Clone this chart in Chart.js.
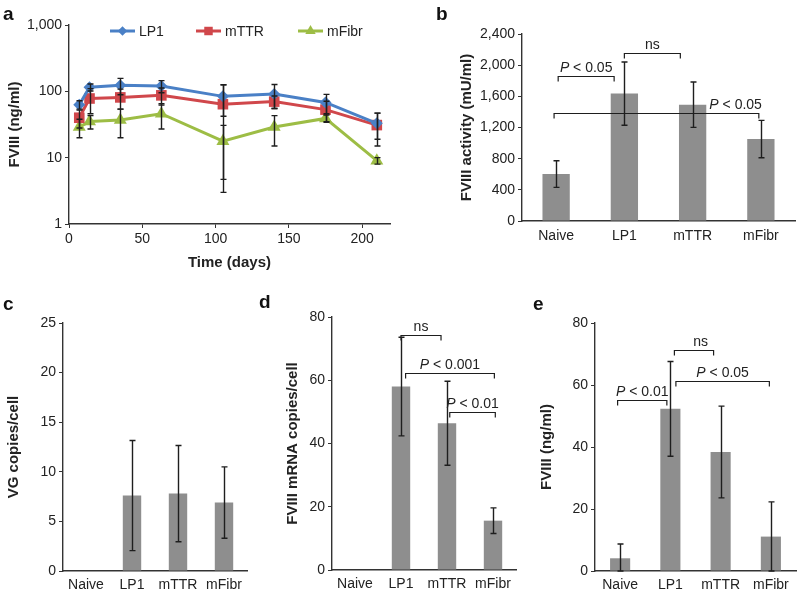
<!DOCTYPE html>
<html>
<head>
<meta charset="utf-8">
<script src="https://cdn.jsdelivr.net/npm/chart.js@4.4.1/dist/chart.umd.min.js"></script>
<style>
body { margin: 0; background: #fff; }
#wrap { position: relative; width: 800px; height: 591px; overflow: hidden; font-family: "Liberation Sans", Arial, sans-serif; }
canvas { position: absolute; }
.panel { position: absolute; font-weight: bold; font-size: 19px; color: #111; line-height: 1; }
</style>
</head>
<body>
<div id="wrap">
	<canvas id="chartA" width="400" height="280" style="left:0;top:0"></canvas>
	<canvas id="chartB" width="380" height="260" style="left:420px;top:0"></canvas>
	<canvas id="chartC" width="260" height="296" style="left:0;top:295px"></canvas>
	<canvas id="chartD" width="270" height="296" style="left:260px;top:295px"></canvas>
	<canvas id="chartE" width="270" height="296" style="left:530px;top:295px"></canvas>
	<div class="panel" style="left:3px;top:4px">a</div>
	<div class="panel" style="left:436px;top:4px">b</div>
	<div class="panel" style="left:3px;top:294px">c</div>
	<div class="panel" style="left:259px;top:292px">d</div>
	<div class="panel" style="left:533px;top:294px">e</div>
</div>
<script>
// panel a: FVIII over time (mean, sd)
const days = [7, 14, 35, 63, 105, 140, 175, 210]
const lp1 = [63, 115, 123, 120, 84, 91, 68, 33]
const lp1Sd = [9, 14, 34, 25, 42, 36, 22, 14]
const mttr = [40, 78, 81, 87, 64, 70, 53, 31]
const mttrSd = [12, 32, 27, 25, 61, 15, 18, 16]
const mfibr = [29, 35, 37, 46, 17.7, 29, 39, 9]
const mfibrSd = [9, 8, 17, 19, 13, 14, 5, 1]
const dayTicks = [0, 50, 100, 150, 200]
const logTicks = [1, 10, 100, 1000]

// panels b-e
const groups = ['Naive', 'LP1', 'mTTR', 'mFibr']
const activity = [603, 1635, 1493, 1052]
const activitySd = [171, 406, 291, 240]
const vgCopies = [null, 7.6, 7.8, 6.9]
const vgSd = [null, 5.55, 4.85, 3.6]
const mrnaCopies = [null, 58, 46.4, 15.6]
const mrnaSd = [null, 15.6, 13.3, 4.05]
const fviii = [4.1, 52.3, 38.4, 11.1]
const fviiiSd = [4.6, 15.3, 14.8, 11.2]

// significance brackets: [from group, to group, height, label, label centre]
const activityBrackets = [
	[0.03, 0.85, 1857, 'P < 0.05'],
	[1.0, 1.82, 2152, 'ns'],
	[-0.03, 2.97, 1390, 'P < 0.05', 2.63],
]
const mrnaBrackets = [
	[1.0, 1.87, 74.4, 'ns'],
	[1.1, 3.03, 62.4, 'P < 0.001'],
	[2.06, 3.05, 49.9, 'P < 0.01'],
]
const fviiiBrackets = [
	[-0.05, 0.93, 55.1, 'P < 0.01'],
	[1.08, 1.86, 71.2, 'ns', 1.6],
	[1.11, 2.97, 61.2, 'P < 0.05'],
]

const FONT = '"Liberation Sans", Arial, sans-serif'
const INK = '#1e1e1e'
const AXIS = '#333'
const GREY = '#8e8e8e'

Chart.defaults.font.family = FONT
Chart.defaults.font.size = 14
Chart.defaults.color = '#222'
Chart.defaults.animation = false
Chart.defaults.responsive = false
Chart.defaults.devicePixelRatio = 1
Chart.defaults.plugins.legend.display = false
Chart.defaults.plugins.tooltip.enabled = false

let errorBars = {
	id: 'errorBars',
	afterDatasetsDraw(chart) {
		let ctx = chart.ctx
		let yScale = chart.scales.y
		chart.data.datasets.forEach(function (ds, di) {
			if (!ds.errors) return
			let meta = chart.getDatasetMeta(di)
			ctx.save()
			ctx.strokeStyle = INK
			ctx.lineWidth = 1.4
			meta.data.forEach(function (el, i) {
				let v = ds.data[i]
				let val = v !== null && typeof v === 'object' ? v.y : v
				let e = ds.errors[i]
				if (val == null || !e) return
				let lo = Math.max(val - e, yScale.min)
				let x = Math.round(el.x) + 0.5
				let y1 = yScale.getPixelForValue(lo)
				let y2 = yScale.getPixelForValue(val + e)
				ctx.beginPath()
				ctx.moveTo(x, y1)
				ctx.lineTo(x, y2)
				ctx.moveTo(x - 3, y1)
				ctx.lineTo(x + 3, y1)
				ctx.moveTo(x - 3, y2)
				ctx.lineTo(x + 3, y2)
				ctx.stroke()
			})
			ctx.restore()
		})
	},
}

function drawPLabel(ctx, text, cx, y) {
	let normal = '14px ' + FONT
	let italic = 'italic 14px ' + FONT
	ctx.textBaseline = 'alphabetic'
	ctx.textAlign = 'left'
	ctx.fillStyle = '#222'
	if (text.startsWith('P ')) {
		let rest = text.slice(1)
		ctx.font = italic
		let w1 = ctx.measureText('P').width
		ctx.font = normal
		let w2 = ctx.measureText(rest).width
		let x0 = cx - (w1 + w2) / 2
		ctx.font = italic
		ctx.fillText('P', x0, y)
		ctx.font = normal
		ctx.fillText(rest, x0 + w1, y)
	} else {
		ctx.font = normal
		let w = ctx.measureText(text).width
		ctx.fillText(text, cx - w / 2, y)
	}
}

let brackets = {
	id: 'brackets',
	afterDraw(chart, args, opts) {
		if (!opts.items) return
		let ctx = chart.ctx
		let xs = chart.scales.x
		let ys = chart.scales.y
		ctx.save()
		ctx.strokeStyle = INK
		ctx.lineWidth = 1.2
		opts.items.forEach(function (b) {
			let x1 = xs.getPixelForValue(b[0])
			let x2 = xs.getPixelForValue(b[1])
			let y = Math.round(ys.getPixelForValue(b[2])) + 0.5
			ctx.beginPath()
			ctx.moveTo(x1, y + 5)
			ctx.lineTo(x1, y)
			ctx.lineTo(x2, y)
			ctx.lineTo(x2, y + 5)
			ctx.stroke()
			let cx = b[4] != null ? xs.getPixelForValue(b[4]) : (x1 + x2) / 2
			drawPLabel(ctx, b[3], cx, y - 5)
		})
		ctx.restore()
	},
}

let lineLegend = {
	id: 'lineLegend',
	afterDraw(chart) {
		let ctx = chart.ctx
		let starts = [110, 196, 298]
		let y = 31
		chart.data.datasets.forEach(function (ds, i) {
			let x = starts[i]
			ctx.save()
			ctx.strokeStyle = ds.borderColor
			ctx.lineWidth = 3
			ctx.beginPath()
			ctx.moveTo(x, y)
			ctx.lineTo(x + 25, y)
			ctx.stroke()
			ctx.fillStyle = ds.borderColor
			Chart.helpers.drawPoint(ctx, { pointStyle: ds.pointStyle, radius: ds.pointRadius * 0.8, rotation: 0, borderWidth: 0 }, x + 12.5, y)
			ctx.font = '14px ' + FONT
			ctx.fillStyle = '#222'
			ctx.textBaseline = 'middle'
			ctx.fillText(ds.label, x + 29, y + 1)
			ctx.restore()
		})
	},
}

function points(values) {
	return values.map(function (v, i) {
		return { x: days[i], y: v }
	})
}

function lineSet(label, values, sd, color, style, radius) {
	return {
		label: label,
		data: points(values),
		errors: sd,
		borderColor: color,
		backgroundColor: color,
		borderWidth: 3,
		pointStyle: style,
		pointRadius: radius,
		pointBorderWidth: 0,
		tension: 0,
	}
}

new Chart(document.getElementById('chartA'), {
	type: 'line',
	data: {
		datasets: [
			lineSet('LP1', lp1, lp1Sd, '#4a80c6', 'rectRot', 6),
			lineSet('mTTR', mttr, mttrSd, '#d0474b', 'rect', 7.5),
			lineSet('mFibr', mfibr, mfibrSd, '#9dbd45', 'triangle', 7.5),
		],
	},
	options: {
		layout: { padding: { top: 25, left: 2, right: 10, bottom: 4 } },
		scales: {
			x: {
				type: 'linear',
				min: 0,
				max: 219,
				afterBuildTicks: function (s) {
					s.ticks = dayTicks.map(function (v) { return { value: v } })
				},
				afterFit: function (s) { s.height = 52 },
				grid: { drawOnChartArea: false, tickLength: 4, color: AXIS },
				border: { color: AXIS, width: 1.4 },
				ticks: { padding: 3 },
				title: { display: true, text: 'Time (days)', font: { size: 15, weight: 'bold' } },
			},
			y: {
				type: 'logarithmic',
				min: 1,
				max: 1000,
				afterBuildTicks: function (s) {
					s.ticks = logTicks.map(function (v) { return { value: v } })
				},
				afterFit: function (s) { s.width = 67 },
				grid: { drawOnChartArea: false, tickLength: 4, color: AXIS },
				border: { color: AXIS, width: 1.4 },
				ticks: {
					padding: 3,
					callback: function (v) { return Number(v).toLocaleString('en-US') },
				},
				title: { display: true, text: 'FVIII (ng/ml)', font: { size: 15, weight: 'bold' } },
			},
		},
	},
	plugins: [errorBars, lineLegend],
})

function barChart(id, values, sd, opts) {
	return new Chart(document.getElementById(id), {
		type: 'bar',
		data: {
			labels: groups,
			datasets: [
				{
					data: values,
					errors: sd,
					backgroundColor: GREY,
					barPercentage: 0.4,
					categoryPercentage: 1,
				},
			],
		},
		options: {
			layout: { padding: opts.padding },
			plugins: { brackets: { items: opts.brackets } },
			scales: {
				x: {
					afterFit: function (s) { s.height = opts.xHeight },
					grid: { drawOnChartArea: false, drawTicks: false, color: AXIS },
					border: { color: AXIS, width: 1.4 },
					ticks: { padding: opts.xPad, color: '#222' },
				},
				y: {
					min: 0,
					max: opts.max,
					afterFit: function (s) { s.width = opts.yWidth },
					grid: { drawOnChartArea: false, tickLength: 4, color: AXIS },
					border: { color: AXIS, width: 1.4 },
					ticks: {
						stepSize: opts.step,
						padding: 3,
						callback: function (v) { return Number(v).toLocaleString('en-US') },
					},
					title: { display: true, text: opts.title, font: { size: 15, weight: 'bold' } },
				},
			},
		},
		plugins: [errorBars, brackets],
	})
}

barChart('chartB', activity, activitySd, {
	padding: { top: 34, left: 34, right: 5, bottom: 0 },
	xHeight: 39, xPad: 7, yWidth: 68, max: 2400, step: 400,
	title: 'FVIII activity (mU/ml)', brackets: activityBrackets,
})
barChart('chartC', vgCopies, vgSd, {
	padding: { top: 28, left: 1, right: 13, bottom: 0 },
	xHeight: 20, xPad: 6, yWidth: 62, max: 25, step: 5,
	title: 'VG copies/cell', brackets: [],
})
barChart('chartD', mrnaCopies, mrnaSd, {
	padding: { top: 22, left: 20, right: 14, bottom: 0 },
	xHeight: 21, xPad: 6, yWidth: 52, max: 80, step: 20,
	title: 'FVIII mRNA copies/cell', brackets: mrnaBrackets,
})
barChart('chartE', fviii, fviiiSd, {
	padding: { top: 28, left: 4, right: 4, bottom: 0 },
	xHeight: 20, xPad: 6, yWidth: 61, max: 80, step: 20,
	title: 'FVIII (ng/ml)', brackets: fviiiBrackets,
})
</script>
</body>
</html>
